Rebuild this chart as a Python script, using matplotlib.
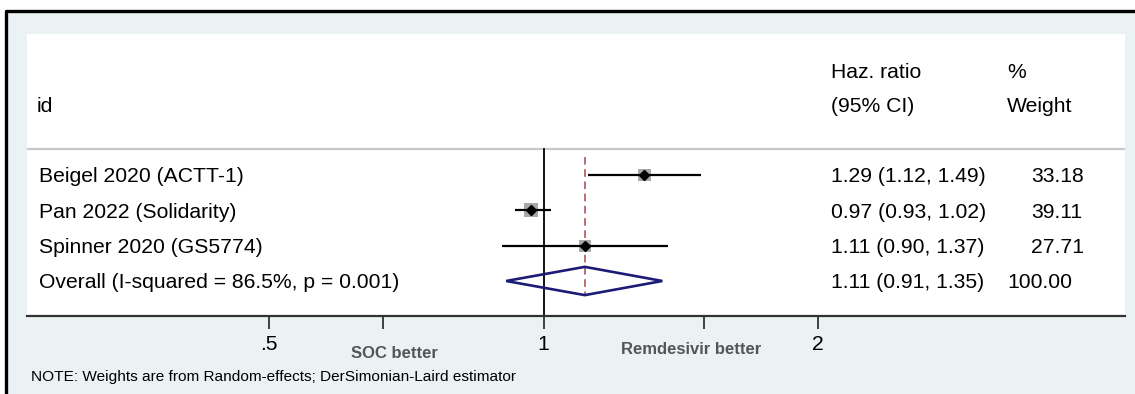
"""Forest plot: remdesivir vs standard of care, hazard ratios."""
import matplotlib
matplotlib.use("Agg")
import matplotlib.pyplot as plt
import matplotlib.transforms as mtransforms
from matplotlib.patches import Rectangle, Polygon
from matplotlib.lines import Line2D
import numpy as np

plt.rcParams["font.family"] = ["Liberation Sans", "DejaVu Sans"]

# data
studies = ["Beigel 2020 (ACTT-1)", "Pan 2022 (Solidarity)", "Spinner 2020 (GS5774)"]
hr = [1.29, 0.97, 1.11]
lo = [1.12, 0.93, 0.90]
hi = [1.49, 1.02, 1.37]
weights = [33.18, 39.11, 27.71]
overall_label = "Overall (I-squared = 86.5%, p = 0.001)"
overall = (1.11, 0.91, 1.35)
overall_weight = 100.00
xticks = [0.5, 1 / 1.5, 1, 1.5, 2]
xticklabels = [".5", "", "1", "", "2"]

W, H = 1135, 394
BG = "#EAF2F3"


def fx(px):
    return px / W


def fy(py):
    return 1 - py / H


fig = plt.figure(figsize=(W / 100, H / 100), dpi=100, facecolor="white")

# Stata-style graph region with thick border on top / left
fig.patches.append(Rectangle((fx(6), 0), 1 - fx(6), fy(11), transform=fig.transFigure,
                             facecolor=BG, edgecolor="none", zorder=-10))
fig.lines.append(Line2D([fx(6), fx(6), 1], [0, fy(11), fy(11)], transform=fig.transFigure,
                        color="black", lw=2.4, zorder=10))

# plot region (white) in pixel layout
left_px, right_px, top_px, bot_px = 27, 1125, 34, 316
ax = fig.add_axes([fx(left_px), fy(bot_px), fx(right_px - left_px), (bot_px - top_px) / H])
ax.set_facecolor("white")
ax.set_zorder(1)

# log x axis: .5 at 269px, 2 at 818px
k = (818 - 269) / np.log(4)
c = (818 + 269) / 2
ax.set_xscale("log")
ax.set_xlim(np.exp((left_px - c) / k), np.exp((right_px - c) / k))

# rows: first study at 175px, 35.33px per row
row_px = 35.33
first_px = 175
ax.set_ylim((bot_px - first_px) / row_px, (top_px - first_px) / row_px)


def ry(py):
    return (py - first_px) / row_px


for s in ["top", "left", "right"]:
    ax.spines[s].set_visible(False)
ax.spines["bottom"].set_color("#333333")
ax.spines["bottom"].set_linewidth(1.6)
ax.set_yticks([])
ax.set_xticks(xticks)
ax.set_xticklabels(xticklabels, fontsize=15.2)
ax.minorticks_off()
ax.tick_params(axis="x", length=9, width=1.3, color="#333333", pad=5)

rows = np.arange(len(studies))
n = len(studies)

# header separator
ax.axhline(ry(149), color="#C8C8C8", lw=1.6)

# null line and overall effect
ax.plot([1, 1], [ry(149), ry(bot_px)], color="black", lw=1.3, zorder=2)
ax.plot([overall[0]] * 2, [ry(157), ry(295)], color="#A8474F", lw=1.1,
        ls=(0, (5, 3)), zorder=2)

# study estimates
ax.scatter(hr, rows, s=[2.6 * w for w in weights], marker="s", color="#A8A8A8",
           zorder=3, linewidths=0)
ax.hlines(rows, lo, hi, color="black", lw=1.6, zorder=4)
ax.plot(hr, rows, "D", color="black", ms=5.2, zorder=5)

# pooled diamond
h = 0.4
est, l, u = overall
ax.add_patch(Polygon([[l, n], [est, n - h], [u, n], [est, n + h]], closed=True,
                     fill=False, edgecolor="#1C1C78", lw=1.9, zorder=4))

# text columns
tr = mtransforms.blended_transform_factory(ax.transAxes, ax.transData)


def axx(px):
    return (px - left_px) / (right_px - left_px)


fs = 15.2
va = "center_baseline"
ax.text(axx(37), ry(104), "id", fontsize=fs, va=va, transform=tr)
ax.text(axx(831), ry(71), "Haz. ratio", fontsize=fs, va=va, transform=tr)
ax.text(axx(831), ry(104), "(95% CI)", fontsize=fs, va=va, transform=tr)
ax.text(axx(1007), ry(71), "%", fontsize=fs, va=va, transform=tr)
ax.text(axx(1007), ry(104), "Weight", fontsize=fs, va=va, transform=tr)

for i in range(n):
    ax.text(axx(39), rows[i], studies[i], fontsize=fs, va=va, transform=tr)
    ax.text(axx(831), rows[i], f"{hr[i]:.2f} ({lo[i]:.2f}, {hi[i]:.2f})",
            fontsize=fs, va=va, transform=tr)
    ax.text(axx(1031), rows[i], f"{weights[i]:.2f}", fontsize=fs, va=va, transform=tr)

ax.text(axx(39), n, overall_label, fontsize=fs, va=va, transform=tr)
ax.text(axx(831), n, f"{est:.2f} ({l:.2f}, {u:.2f})", fontsize=fs, va=va, transform=tr)
ax.text(axx(1007), n, f"{overall_weight:.2f}", fontsize=fs, va=va, transform=tr)

# favours labels and note
fig.text(fx(394), fy(353), "SOC better", fontsize=12, fontweight="bold",
         color="#555555", ha="center", va="center")
fig.text(fx(691), fy(349), "Remdesivir better", fontsize=12, fontweight="bold",
         color="#555555", ha="center", va="center")
fig.text(fx(31), fy(377), "NOTE: Weights are from Random-effects; DerSimonian-Laird estimator",
         fontsize=11.1, ha="left", va="center")

fig.savefig("out.png", dpi=100, facecolor=fig.get_facecolor())
